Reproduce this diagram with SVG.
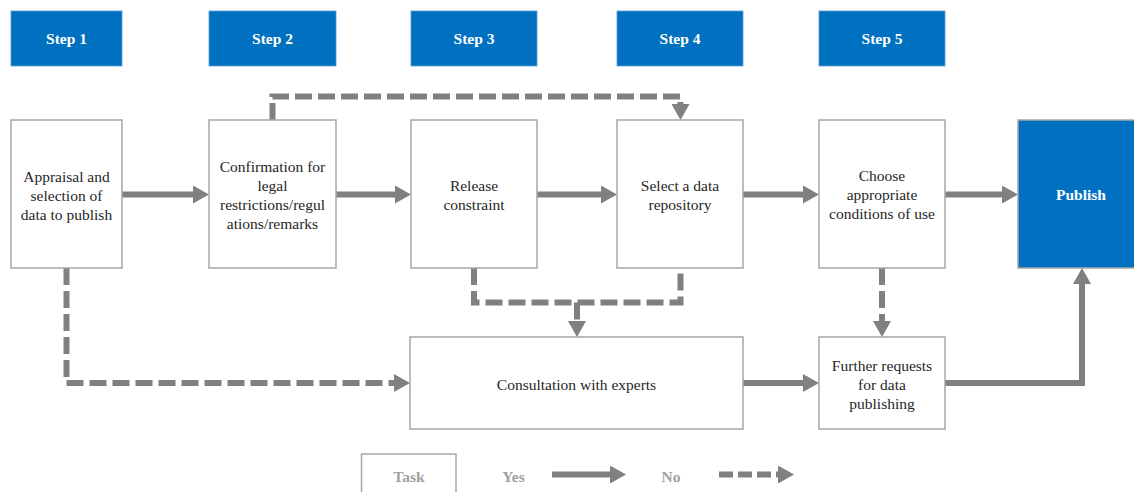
<svg xmlns="http://www.w3.org/2000/svg" width="1134" height="492" viewBox="0 0 1134 492">
<style>
.step{fill:#0070C0;stroke:#5B9BD5;stroke-width:0.8}
.task{fill:#fff;stroke:#A6A6A6;stroke-width:1.5}
.pub{fill:#0070C0;stroke:#A6A6A6;stroke-width:1.5}
.st{font-family:"Liberation Serif","Times New Roman",serif;font-size:15.5px;font-weight:bold;fill:#fff;text-anchor:middle}
.tt{font-family:"Liberation Serif","Times New Roman",serif;font-size:15.5px;fill:#262626;text-anchor:middle}
.lg{font-family:"Liberation Serif","Times New Roman",serif;font-size:15.5px;font-weight:bold;fill:#A0A0A0;text-anchor:middle}
.yes{fill:none;stroke:#808080;stroke-width:6;marker-end:url(#ah)}
.no{fill:none;stroke:#808080;stroke-width:6;stroke-dasharray:17 6;marker-end:url(#ah)}
.nol{fill:none;stroke:#808080;stroke-width:6;stroke-dasharray:17 6}
</style>
<defs>
<marker id="ah" markerUnits="userSpaceOnUse" markerWidth="16" markerHeight="18" refX="6" refY="9" orient="auto">
<path d="M0,0 L16,9 L0,18 z" fill="#808080"/>
</marker>
</defs>
<rect width="1134" height="492" fill="#fff"/>
<g id="steps">
<g id="step1"><rect class="step" x="11" y="11" width="111" height="55"/><text class="st" x="66.5" y="44">Step 1</text></g>
<g id="step2"><rect class="step" x="209" y="11" width="127" height="55"/><text class="st" x="272.5" y="44">Step 2</text></g>
<g id="step3"><rect class="step" x="411" y="11" width="126" height="55"/><text class="st" x="474" y="44">Step 3</text></g>
<g id="step4"><rect class="step" x="617" y="11" width="126" height="55"/><text class="st" x="680" y="44">Step 4</text></g>
<g id="step5"><rect class="step" x="819" y="11" width="126" height="55"/><text class="st" x="882" y="44">Step 5</text></g>
</g>
<g id="connectors">
<path class="yes" d="M122,194.5 H199"/>
<path class="yes" d="M336,194.5 H401"/>
<path class="yes" d="M537,194.5 H607"/>
<path class="yes" d="M743,194.5 H809"/>
<path class="yes" d="M945,194.5 H1008"/>
<path class="yes" d="M743,383 H809"/>
<path class="yes" d="M945,383 H1082 V278"/>
<path class="no" d="M272.5,120 V96.5 H680.5 V110"/>
<path class="no" d="M66.5,268 V383 H400"/>
<path class="nol" d="M474,268 V302.5 H680.5 V268"/>
<path class="no" d="M577,302.5 V327"/>
<path class="no" d="M882,268 V327"/>
</g>
<g id="n1"><rect class="task" x="11" y="120" width="111" height="148"/>
<text class="tt" x="66.5" y="182">Appraisal and</text><text class="tt" x="66.5" y="201">selection of</text><text class="tt" x="66.5" y="220">data to publish</text></g>
<g id="n2"><rect class="task" x="209" y="120" width="127" height="148"/>
<text class="tt" x="272.5" y="172">Confirmation for</text><text class="tt" x="272.5" y="191">legal</text><text class="tt" x="272.5" y="210">restrictions/regul</text><text class="tt" x="272.5" y="229">ations/remarks</text></g>
<g id="n3"><rect class="task" x="411" y="120" width="126" height="148"/>
<text class="tt" x="474" y="190.5">Release</text><text class="tt" x="474" y="209.5">constraint</text></g>
<g id="n4"><rect class="task" x="617" y="120" width="126" height="148"/>
<text class="tt" x="680" y="190.5">Select a data</text><text class="tt" x="680" y="209.5">repository</text></g>
<g id="n5"><rect class="task" x="819" y="120" width="126" height="148"/>
<text class="tt" x="882" y="181">Choose</text><text class="tt" x="882" y="200">appropriate</text><text class="tt" x="882" y="219">conditions of use</text></g>
<g id="publish"><rect class="pub" x="1018" y="120" width="127" height="148"/>
<text class="st" x="1081" y="200">Publish</text></g>
<g id="consult"><rect class="task" x="410" y="337" width="333" height="92"/>
<text class="tt" x="576.5" y="389.5">Consultation with experts</text></g>
<g id="further"><rect class="task" x="819" y="337" width="126" height="92"/>
<text class="tt" x="882" y="370.5">Further requests</text><text class="tt" x="882" y="389.5">for data</text><text class="tt" x="882" y="408.5">publishing</text></g>
<g id="legend">
<rect class="task" x="361.5" y="454" width="94.5" height="45"/>
<text class="lg" x="409" y="482">Task</text>
<text class="lg" x="513.5" y="482">Yes</text>
<path class="yes" d="M552,474.5 H616"/>
<text class="lg" x="671" y="482">No</text>
<path class="no" style="stroke-dasharray:14 5" d="M719,474.5 H784"/>
</g>
</svg>
